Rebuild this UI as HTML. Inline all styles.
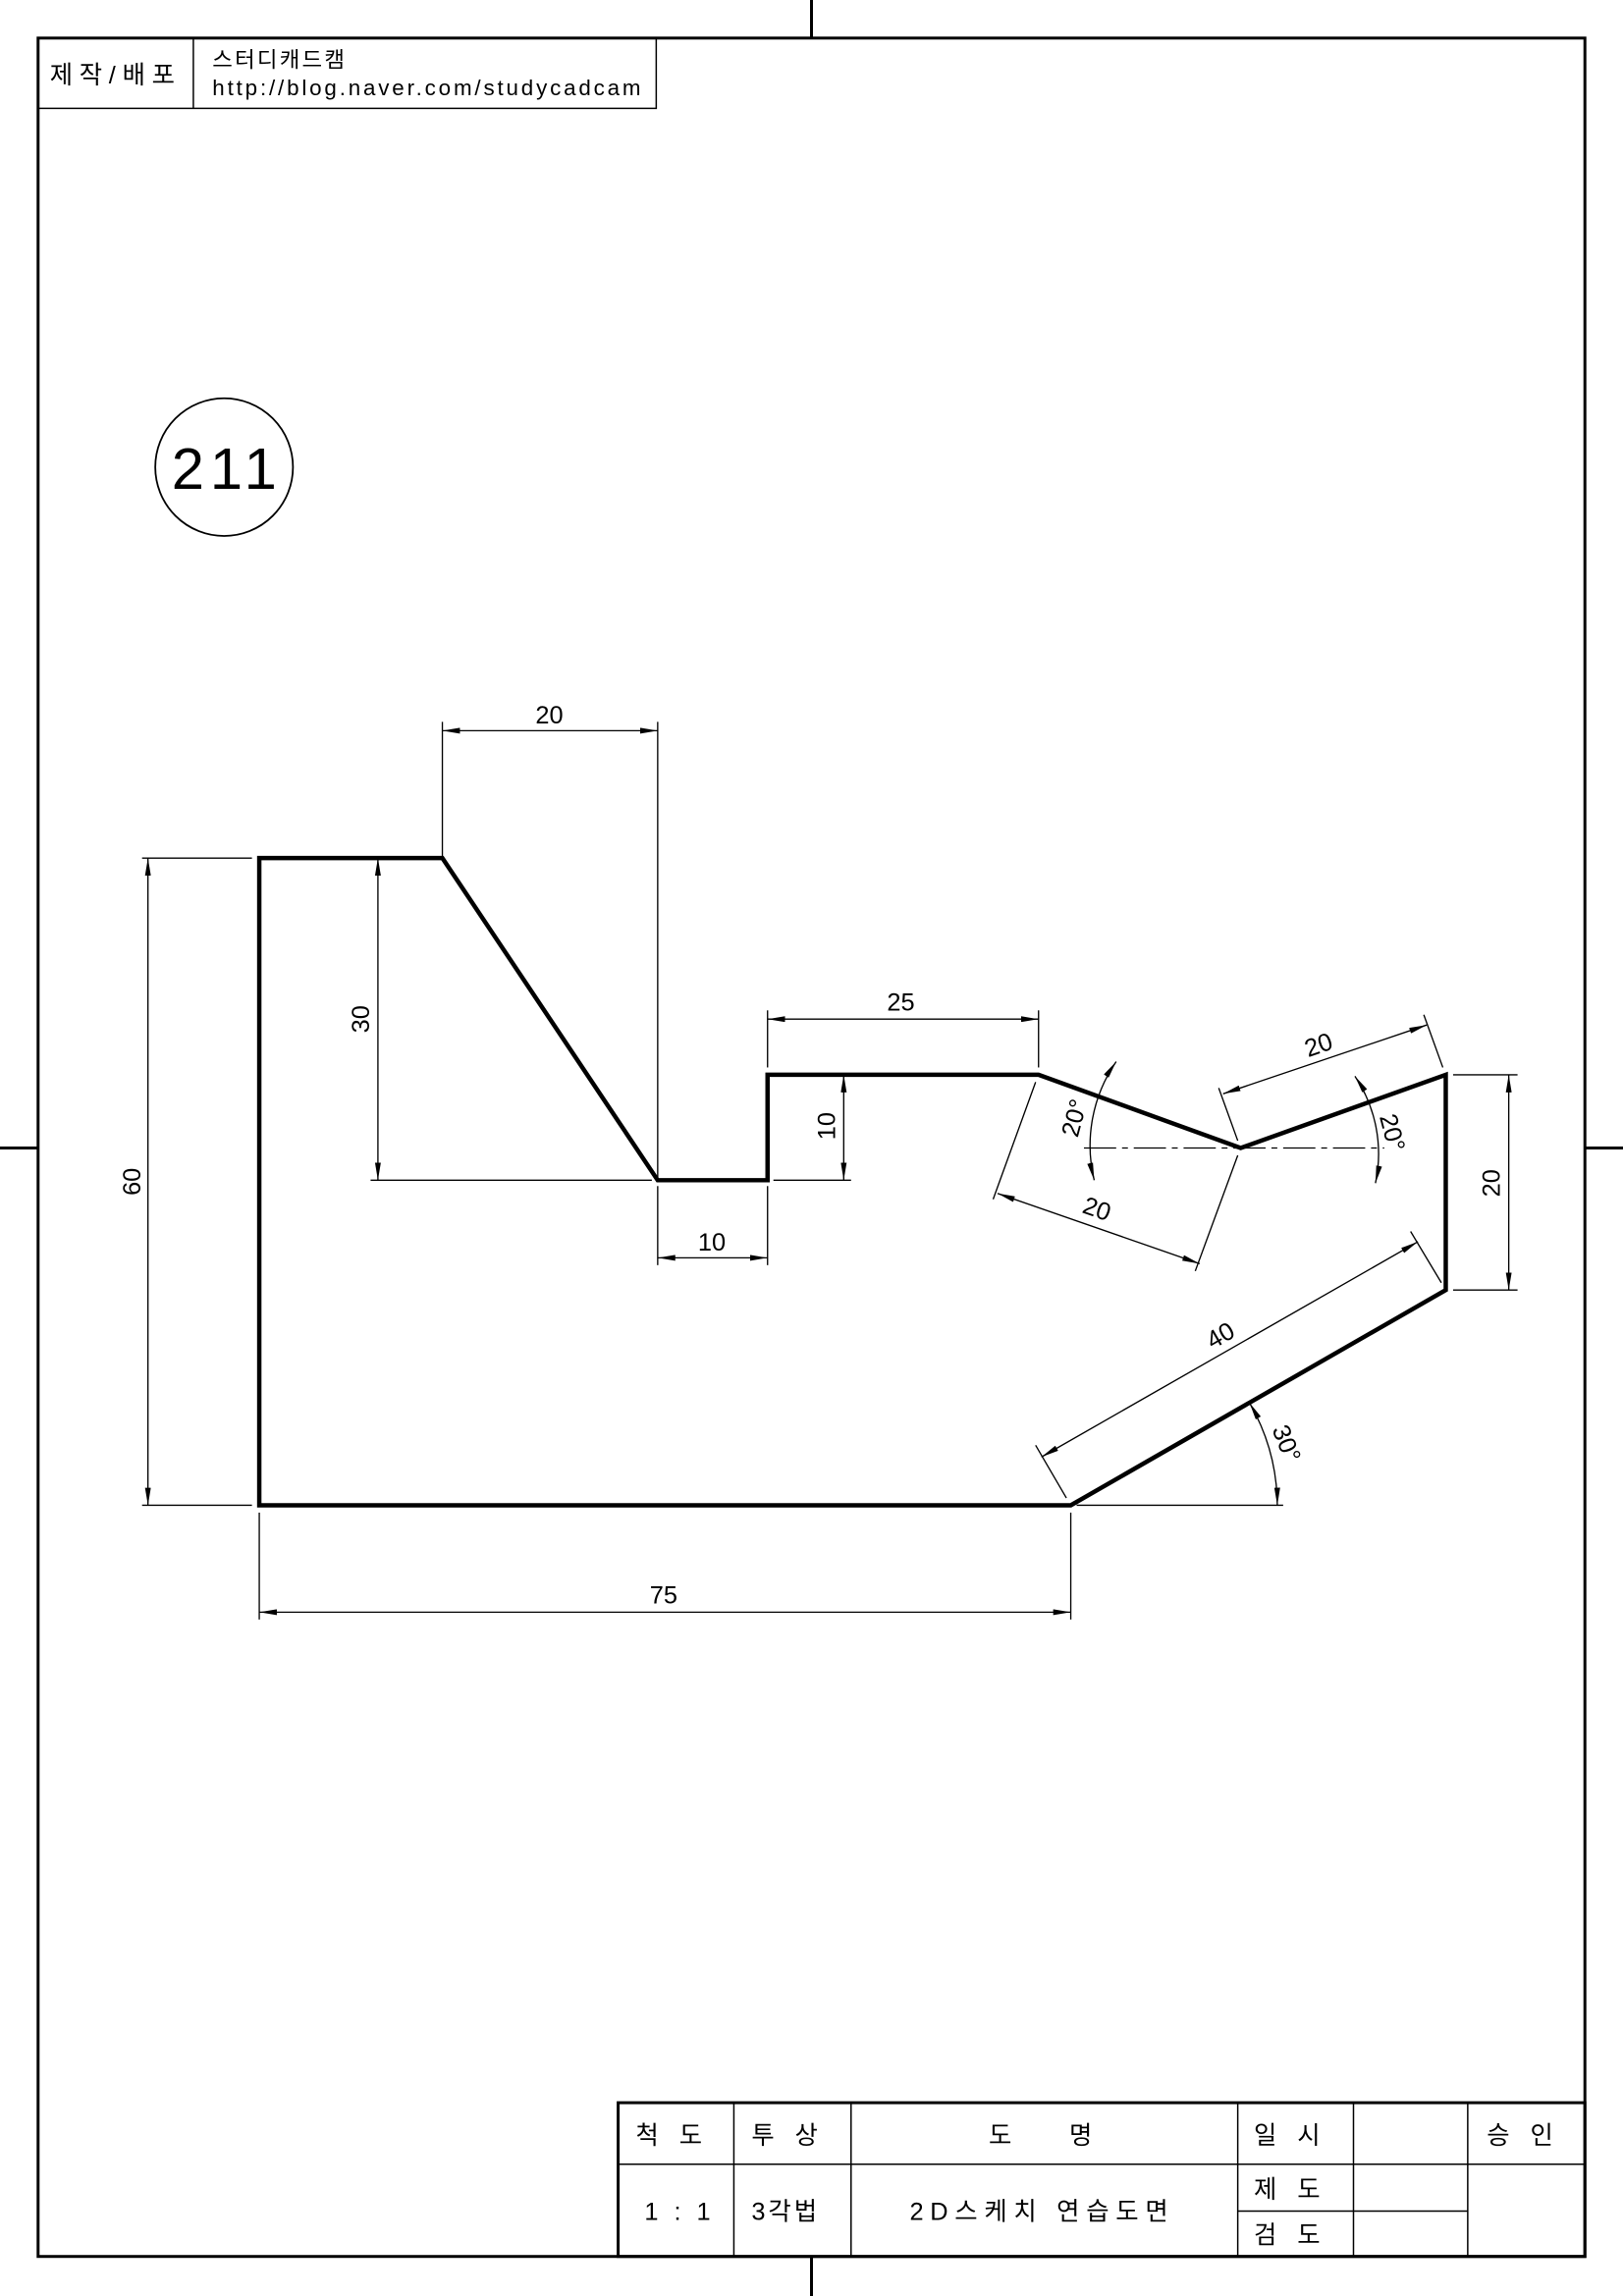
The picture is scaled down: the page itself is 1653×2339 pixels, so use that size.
<!DOCTYPE html>
<html><head><meta charset="utf-8"><style>
html,body{margin:0;padding:0;background:#fff;}
svg{display:block;}
text{font-family:"Liberation Sans","Noto Sans CJK KR",sans-serif;fill:#000;}
</style></head><body>
<svg width="1653" height="2339" viewBox="0 0 1108 1568" preserveAspectRatio="none" xmlns="http://www.w3.org/2000/svg">
<defs>
<marker id="a" viewBox="0 0 12 4" refX="12" refY="2" markerWidth="12" markerHeight="4" markerUnits="userSpaceOnUse" orient="auto-start-reverse"><path d="M0,0 L12,2 L0,4 z" fill="#000"/></marker>
</defs>
<g stroke="#000" fill="none">
<rect x="26" y="26" width="1056" height="1515" stroke-width="2"/>
<line x1="554" y1="0" x2="554" y2="26" stroke-width="2"/>
<line x1="554" y1="1541" x2="554" y2="1568" stroke-width="2"/>
<line x1="0" y1="784" x2="26" y2="784" stroke-width="2"/>
<line x1="1082" y1="784" x2="1108" y2="784" stroke-width="2"/>
<rect x="26" y="26" width="422" height="48" stroke-width="1"/>
<line x1="132" y1="26" x2="132" y2="74" stroke-width="1"/>
<circle cx="153" cy="319" r="47" stroke-width="1.2"/>
<path d="M177,586 L302,586 L449,806 L524,806 L524,734 L709,734 L847,784 L987,734 L987,881 L731,1028 L177,1028 Z" stroke-width="3"/>
<g stroke-width="0.9">
<line x1="302" y1="586" x2="302" y2="493"/><line x1="449" y1="806" x2="449" y2="493"/>
<line x1="302" y1="499" x2="449" y2="499" marker-start="url(#a)" marker-end="url(#a)"/>
<line x1="97" y1="586" x2="172" y2="586"/><line x1="97" y1="1028" x2="172" y2="1028"/>
<line x1="101" y1="586" x2="101" y2="1028" marker-start="url(#a)" marker-end="url(#a)"/>
<line x1="253" y1="806" x2="445" y2="806"/>
<line x1="258" y1="586" x2="258" y2="806" marker-start="url(#a)" marker-end="url(#a)"/>
<line x1="528" y1="734" x2="581" y2="734"/><line x1="528" y1="806" x2="581" y2="806"/>
<line x1="576" y1="734" x2="576" y2="806" marker-start="url(#a)" marker-end="url(#a)"/>
<line x1="449" y1="810" x2="449" y2="864"/><line x1="524" y1="810" x2="524" y2="864"/>
<line x1="449" y1="859" x2="524" y2="859" marker-start="url(#a)" marker-end="url(#a)"/>
<line x1="524" y1="729" x2="524" y2="690"/><line x1="709" y1="729" x2="709" y2="690"/>
<line x1="524" y1="696" x2="709" y2="696" marker-start="url(#a)" marker-end="url(#a)"/>
<line x1="707" y1="739" x2="678" y2="819"/><line x1="845" y1="789" x2="816" y2="868"/>
<line x1="681" y1="815" x2="819" y2="863" marker-start="url(#a)" marker-end="url(#a)"/>
<line x1="845" y1="779" x2="832" y2="743"/><line x1="985" y1="729" x2="972" y2="693"/>
<line x1="835" y1="747" x2="974" y2="700" marker-start="url(#a)" marker-end="url(#a)"/>
<line x1="740" y1="784" x2="945" y2="784" stroke-dasharray="22,4,4,4"/>
<path d="M747,806 A101,101 0 0 1 762,725" marker-start="url(#a)" marker-end="url(#a)"/>
<path d="M939,808 A95,95 0 0 0 925,735" marker-start="url(#a)" marker-end="url(#a)"/>
<line x1="992" y1="734" x2="1036" y2="734"/><line x1="992" y1="881" x2="1036" y2="881"/>
<line x1="1030" y1="734" x2="1030" y2="881" marker-start="url(#a)" marker-end="url(#a)"/>
<line x1="728" y1="1023" x2="707" y2="987"/><line x1="984" y1="876" x2="963" y2="841"/>
<line x1="711" y1="995" x2="968" y2="848" marker-start="url(#a)" marker-end="url(#a)"/>
<line x1="735" y1="1028" x2="876" y2="1028"/>
<path d="M872,1028 A141,141 0 0 0 853,958" marker-start="url(#a)" marker-end="url(#a)"/>
<line x1="177" y1="1033" x2="177" y2="1106"/><line x1="731" y1="1033" x2="731" y2="1106"/>
<line x1="177" y1="1101" x2="731" y2="1101" marker-start="url(#a)" marker-end="url(#a)"/>
</g>
<g stroke-width="2">
<rect x="422" y="1436" width="660" height="105"/>
</g>
<g stroke-width="1">
<line x1="422" y1="1478" x2="1082" y2="1478"/>
<line x1="501" y1="1436" x2="501" y2="1541"/>
<line x1="581" y1="1436" x2="581" y2="1541"/>
<line x1="845" y1="1436" x2="845" y2="1541"/>
<line x1="924" y1="1436" x2="924" y2="1541"/>
<line x1="1002" y1="1436" x2="1002" y2="1541"/>
<line x1="845" y1="1510" x2="1002" y2="1510"/>
</g>
</g>
<text x="34" y="57" font-size="17" letter-spacing="4.5">제작/배포</text>
<text x="145" y="46" font-size="15" letter-spacing="1.5">스터디캐드캠</text>
<text x="145" y="65" font-size="15" letter-spacing="1.9">http://blog.naver.com/studycadcam</text>
<text x="155" y="334" font-size="40" text-anchor="middle" letter-spacing="4">211</text>
<g font-size="17" text-anchor="middle">
<text x="375" y="494">20</text>
<text x="615" y="690">25</text>
<text x="486" y="854">10</text>
<text x="453" y="1095">75</text>
<text transform="translate(96,807) rotate(-90)">60</text>
<text transform="translate(252,696) rotate(-90)">30</text>
<text transform="translate(570,769) rotate(-90)">10</text>
<text transform="translate(1024,808) rotate(-90)">20</text>
<text transform="translate(747,831) rotate(19)">20</text>
<text transform="translate(902,719) rotate(-19)">20</text>
<text transform="translate(836,917) rotate(-30)">40</text>
<text transform="translate(739,765) rotate(-75)">20°</text>
<text transform="translate(945,775) rotate(75)">20°</text>
<text transform="translate(873,988) rotate(68)">30°</text>
</g>
<g font-size="17">
<text x="434" y="1464" letter-spacing="14">척도</text>
<text x="513" y="1464" letter-spacing="14">투상</text>
<text x="675" y="1464" letter-spacing="0">도</text>
<text x="730" y="1464">명</text>
<text x="856" y="1464" letter-spacing="14">일시</text>
<text x="1015" y="1464" letter-spacing="14">승인</text>
<text x="440" y="1516" letter-spacing="3">1 : 1</text>
<text x="513" y="1516" letter-spacing="2">3각법</text>
<text x="621" y="1516" letter-spacing="4.5">2D스케치 연습도면</text>
<text x="856" y="1501" letter-spacing="14">제도</text>
<text x="856" y="1532" letter-spacing="14">검도</text>
</g>
</svg>
</body></html>
